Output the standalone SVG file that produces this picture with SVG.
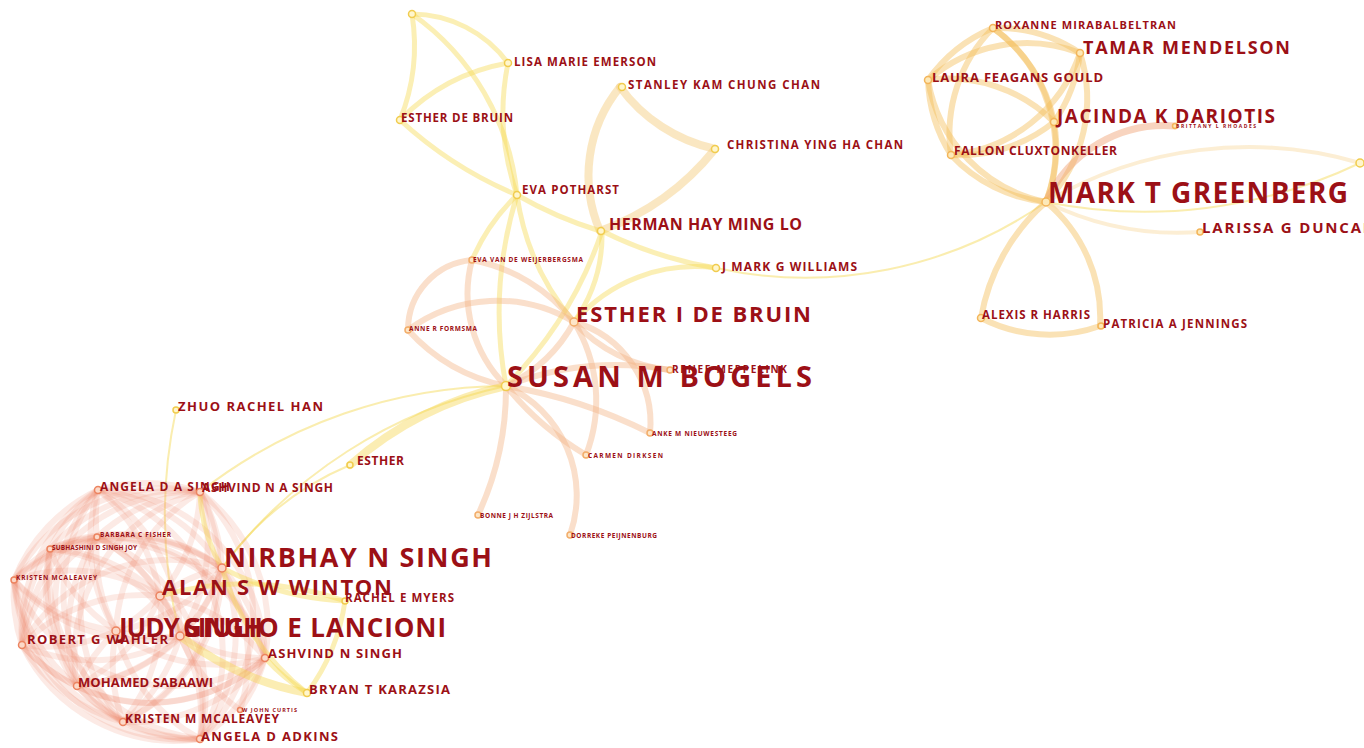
<svg xmlns="http://www.w3.org/2000/svg" width="1364" height="748" viewBox="0 0 1364 748">
<style>
.bg{fill:#fff}
path{fill:none;stroke-linecap:round}
.ey{stroke:#f5d84e;stroke-opacity:.42;stroke-width:5}
.eyt{stroke:#f5d84e;stroke-opacity:.45;stroke-width:2}
.eyw{stroke:#f6d856;stroke-opacity:.45;stroke-width:8}
.ep{stroke:#f6cf86;stroke-opacity:.5;stroke-width:8}
.eo{stroke:#f3b282;stroke-opacity:.42;stroke-width:6}
.es{stroke:#ee8562;stroke-opacity:.17;stroke-width:6}
.er{stroke:#f5bf5c;stroke-opacity:.45;stroke-width:6}
.erb{stroke:#f0a070;stroke-opacity:.45;stroke-width:7}
.erp{stroke:#f8d9a0;stroke-opacity:.45;stroke-width:4}
.dy{fill:#fff6cc;stroke:#f1cc4e;stroke-width:1.5}
.do{fill:#fde6c8;stroke:#f2ad6a;stroke-width:1.5}
.ds{fill:#fcd8c8;stroke:#ec8460;stroke-width:1.5}
.dr{fill:#fde9b8;stroke:#f3b55a;stroke-width:1.5}
text{font-family:"Open Sans","DejaVu Sans",sans-serif;font-weight:700;fill:#9c1016}
</style>
<rect class="bg" x="0" y="0" width="1364" height="748"/>
<g id="connectors">
<path class="ey" d="M412 14 A200 200 0 0 1 400 120"/>
<path class="ey" d="M412 14 A120 120 0 0 1 508 63"/>
<path class="ey" d="M412 14 A250 250 0 0 1 517 195"/>
<path class="ey" d="M400 120 A200 200 0 0 1 508 63"/>
<path class="ey" d="M400 120 A400 400 0 0 0 517 195"/>
<path class="ey" d="M508 63 A250 250 0 0 0 517 195"/>
<path class="ey" d="M517 195 A400 400 0 0 0 506 386"/>
<path class="ey" d="M517 195 A250 250 0 0 0 574 322"/>
<path class="ey" d="M517 195 A200 200 0 0 0 472 260"/>
<path class="ep" d="M620 87 A160 160 0 0 0 715 149"/>
<path class="ep" d="M620 87 A140 140 0 0 0 600 231"/>
<path class="ep" d="M715 149 A260 260 0 0 1 600 231"/>
<path class="ey" d="M517 195 A400 400 0 0 0 600 231"/>
<path class="ey" d="M602 231 A400 400 0 0 0 716 268"/>
<path class="ey" d="M602 231 A400 400 0 0 1 506 386"/>
<path class="ey" d="M602 231 A150 150 0 0 1 574 322"/>
<path class="ey" d="M716 268 A160 160 0 0 0 574 322"/>
<path class="eyt" d="M716 268 A420 420 0 0 0 1046 202"/>
<path class="eo" d="M506 386 A150 150 0 0 0 574 322"/>
<path class="eo" d="M408 330 A150 150 0 0 1 574 322"/>
<path class="eo" d="M408 330 A180 180 0 0 0 506 386"/>
<path class="eo" d="M472 260 A130 130 0 0 0 506 386"/>
<path class="eo" d="M472 260 A170 170 0 0 1 574 322"/>
<path class="eo" d="M408 330 A70 70 0 0 1 472 260"/>
<path class="eo" d="M506 386 A300 300 0 0 1 670 370"/>
<path class="eo" d="M574 322 A150 150 0 0 0 670 370"/>
<path class="eo" d="M506 386 A500 500 0 0 1 650 433"/>
<path class="eo" d="M574 322 A105 105 0 0 1 650 433"/>
<path class="eo" d="M506 386 A300 300 0 0 0 586 455"/>
<path class="eo" d="M574 322 A150 150 0 0 1 586 455"/>
<path class="eo" d="M506 386 A300 300 0 0 1 478 515"/>
<path class="eo" d="M506 386 A120 120 0 0 1 570 535"/>
<path class="eyw" d="M506 386 A350 350 0 0 0 350 465"/>
<path class="eyt" d="M350 465 A300 300 0 0 0 222 568"/>
<path class="eyt" d="M506 386 A480 480 0 0 0 222 568"/>
<path class="eyt" d="M506 386 A500 500 0 0 0 200 492"/>
<path class="eyt" d="M176 410 A500 500 0 0 0 180 636"/>
<path class="es" d="M14 580 A170 170 0 0 1 50 549"/>
<path class="es" d="M14 580 A170 170 0 0 1 97 537"/>
<path class="es" d="M14 580 A170 170 0 0 1 98 490"/>
<path class="es" d="M14 580 A170 170 0 0 1 200 492"/>
<path class="es" d="M14 580 A170 170 0 0 1 160 596"/>
<path class="es" d="M14 580 A170 170 0 0 1 222 568"/>
<path class="es" d="M265 658 A170 170 0 0 1 14 580"/>
<path class="es" d="M180 636 A170 170 0 0 1 14 580"/>
<path class="es" d="M200 739 A170 170 0 0 1 14 580"/>
<path class="es" d="M123 722 A170 170 0 0 1 14 580"/>
<path class="es" d="M77 686 A170 170 0 0 1 14 580"/>
<path class="es" d="M116 631 A170 170 0 0 1 14 580"/>
<path class="es" d="M22 645 A170 170 0 0 1 14 580"/>
<path class="es" d="M50 549 A170 170 0 0 1 97 537"/>
<path class="es" d="M50 549 A170 170 0 0 1 98 490"/>
<path class="es" d="M50 549 A170 170 0 0 1 200 492"/>
<path class="es" d="M50 549 A170 170 0 0 1 160 596"/>
<path class="es" d="M50 549 A170 170 0 0 1 222 568"/>
<path class="es" d="M50 549 A170 170 0 0 1 265 658"/>
<path class="es" d="M50 549 A170 170 0 0 1 180 636"/>
<path class="es" d="M200 739 A170 170 0 0 1 50 549"/>
<path class="es" d="M123 722 A170 170 0 0 1 50 549"/>
<path class="es" d="M77 686 A170 170 0 0 1 50 549"/>
<path class="es" d="M116 631 A170 170 0 0 1 50 549"/>
<path class="es" d="M22 645 A170 170 0 0 1 50 549"/>
<path class="es" d="M97 537 A170 170 0 0 1 98 490"/>
<path class="es" d="M97 537 A170 170 0 0 1 200 492"/>
<path class="es" d="M97 537 A170 170 0 0 1 160 596"/>
<path class="es" d="M97 537 A170 170 0 0 1 222 568"/>
<path class="es" d="M97 537 A170 170 0 0 1 265 658"/>
<path class="es" d="M97 537 A170 170 0 0 1 180 636"/>
<path class="es" d="M97 537 A170 170 0 0 1 200 739"/>
<path class="es" d="M123 722 A170 170 0 0 1 97 537"/>
<path class="es" d="M77 686 A170 170 0 0 1 97 537"/>
<path class="es" d="M116 631 A170 170 0 0 1 97 537"/>
<path class="es" d="M22 645 A170 170 0 0 1 97 537"/>
<path class="es" d="M98 490 A170 170 0 0 1 200 492"/>
<path class="es" d="M98 490 A170 170 0 0 1 160 596"/>
<path class="es" d="M98 490 A170 170 0 0 1 222 568"/>
<path class="es" d="M98 490 A170 170 0 0 1 265 658"/>
<path class="es" d="M98 490 A170 170 0 0 1 180 636"/>
<path class="es" d="M98 490 A170 170 0 0 1 200 739"/>
<path class="es" d="M123 722 A170 170 0 0 1 98 490"/>
<path class="es" d="M77 686 A170 170 0 0 1 98 490"/>
<path class="es" d="M116 631 A170 170 0 0 1 98 490"/>
<path class="es" d="M22 645 A170 170 0 0 1 98 490"/>
<path class="es" d="M200 492 A170 170 0 0 1 160 596"/>
<path class="es" d="M200 492 A170 170 0 0 1 222 568"/>
<path class="es" d="M200 492 A170 170 0 0 1 265 658"/>
<path class="es" d="M200 492 A170 170 0 0 1 180 636"/>
<path class="es" d="M200 492 A170 170 0 0 1 200 739"/>
<path class="es" d="M200 492 A170 170 0 0 1 123 722"/>
<path class="es" d="M77 686 A170 170 0 0 1 200 492"/>
<path class="es" d="M116 631 A170 170 0 0 1 200 492"/>
<path class="es" d="M22 645 A170 170 0 0 1 200 492"/>
<path class="es" d="M160 596 A170 170 0 0 1 222 568"/>
<path class="es" d="M160 596 A170 170 0 0 1 265 658"/>
<path class="es" d="M160 596 A170 170 0 0 1 180 636"/>
<path class="es" d="M160 596 A170 170 0 0 1 200 739"/>
<path class="es" d="M160 596 A170 170 0 0 1 123 722"/>
<path class="es" d="M160 596 A170 170 0 0 1 77 686"/>
<path class="es" d="M160 596 A170 170 0 0 1 116 631"/>
<path class="es" d="M22 645 A170 170 0 0 1 160 596"/>
<path class="es" d="M222 568 A170 170 0 0 1 265 658"/>
<path class="es" d="M222 568 A170 170 0 0 1 180 636"/>
<path class="es" d="M222 568 A170 170 0 0 1 200 739"/>
<path class="es" d="M222 568 A170 170 0 0 1 123 722"/>
<path class="es" d="M222 568 A170 170 0 0 1 77 686"/>
<path class="es" d="M222 568 A170 170 0 0 1 116 631"/>
<path class="es" d="M22 645 A170 170 0 0 1 222 568"/>
<path class="es" d="M265 658 A170 170 0 0 1 180 636"/>
<path class="es" d="M265 658 A170 170 0 0 1 200 739"/>
<path class="es" d="M265 658 A170 170 0 0 1 123 722"/>
<path class="es" d="M265 658 A170 170 0 0 1 77 686"/>
<path class="es" d="M265 658 A170 170 0 0 1 116 631"/>
<path class="es" d="M265 658 A170 170 0 0 1 22 645"/>
<path class="es" d="M180 636 A170 170 0 0 1 200 739"/>
<path class="es" d="M180 636 A170 170 0 0 1 123 722"/>
<path class="es" d="M180 636 A170 170 0 0 1 77 686"/>
<path class="es" d="M180 636 A170 170 0 0 1 116 631"/>
<path class="es" d="M180 636 A170 170 0 0 1 22 645"/>
<path class="es" d="M200 739 A170 170 0 0 1 123 722"/>
<path class="es" d="M200 739 A170 170 0 0 1 77 686"/>
<path class="es" d="M200 739 A170 170 0 0 1 116 631"/>
<path class="es" d="M200 739 A170 170 0 0 1 22 645"/>
<path class="es" d="M123 722 A170 170 0 0 1 77 686"/>
<path class="es" d="M123 722 A170 170 0 0 1 116 631"/>
<path class="es" d="M123 722 A170 170 0 0 1 22 645"/>
<path class="es" d="M77 686 A170 170 0 0 1 116 631"/>
<path class="es" d="M77 686 A170 170 0 0 1 22 645"/>
<path class="es" d="M116 631 A170 170 0 0 1 22 645"/>
<path class="es" d="M180 636 A170 170 0 0 0 240 710"/>
<path class="es" d="M265 658 A170 170 0 0 1 240 710"/>
<path class="es" d="M222 568 A170 170 0 0 1 240 710"/>
<path class="ey" d="M222 568 A300 300 0 0 0 345 601"/>
<path class="ey" d="M345 601 A200 200 0 0 1 307 693"/>
<path class="ey" d="M222 568 A250 250 0 0 0 307 693"/>
<path class="eyw" d="M180 636 A300 300 0 0 0 307 693"/>
<path class="ey" d="M265 658 A200 200 0 0 0 307 693"/>
<path class="ey" d="M160 596 A300 300 0 0 1 345 601"/>
<path class="ey" d="M222 568 A160 160 0 0 1 200 492"/>
<path class="er" d="M928 80 A150 150 0 0 1 993 28"/>
<path class="er" d="M928 80 A150 150 0 0 1 1080 53"/>
<path class="er" d="M928 80 A150 150 0 0 1 1054 122"/>
<path class="er" d="M1046 202 A150 150 0 0 1 928 80"/>
<path class="er" d="M951 155 A150 150 0 0 1 928 80"/>
<path class="er" d="M993 28 A150 150 0 0 1 1080 53"/>
<path class="er" d="M993 28 A150 150 0 0 1 1054 122"/>
<path class="er" d="M993 28 A150 150 0 0 1 1046 202"/>
<path class="er" d="M951 155 A150 150 0 0 1 993 28"/>
<path class="er" d="M1080 53 A150 150 0 0 1 1054 122"/>
<path class="er" d="M1080 53 A150 150 0 0 1 1046 202"/>
<path class="er" d="M1080 53 A150 150 0 0 1 951 155"/>
<path class="er" d="M1054 122 A150 150 0 0 1 1046 202"/>
<path class="er" d="M1054 122 A150 150 0 0 1 951 155"/>
<path class="er" d="M1046 202 A150 150 0 0 1 951 155"/>
<path class="er" d="M1046 202 A200 200 0 0 0 981 318"/>
<path class="er" d="M1046 202 A150 150 0 0 1 1100 326"/>
<path class="er" d="M981 318 A150 150 0 0 0 1100 326"/>
<path class="erb" d="M1046 202 A130 130 0 0 1 1175 126"/>
<path class="erp" d="M1046 202 A400 400 0 0 1 1360 163"/>
<path class="erp" d="M1046 202 A300 300 0 0 0 1200 232"/>
<path class="eyt" d="M1046 202 A500 500 0 0 0 1360 163"/>
</g>
<g id="n-top"><circle class="dy" cx="412" cy="14" r="3.5"/></g>
<g id="n-lisa-marie-emerson"><circle class="dy" cx="508" cy="63" r="3.5"/><text x="514" y="66" font-size="11.5" textLength="142" lengthAdjust="spacing">LISA MARIE EMERSON</text></g>
<g id="n-stanley-kam-chung-chan"><circle class="dy" cx="622" cy="87" r="3.5"/><text x="628" y="89" font-size="11.5" textLength="192" lengthAdjust="spacing">STANLEY KAM CHUNG CHAN</text></g>
<g id="n-esther-de-bruin"><circle class="dy" cx="400" cy="120" r="3.5"/><text x="401" y="122" font-size="11.5" textLength="112" lengthAdjust="spacing">ESTHER DE BRUIN</text></g>
<g id="n-christina-ying-ha-chan"><circle class="dy" cx="715" cy="149" r="3.5"/><text x="727" y="149" font-size="11.5" textLength="176" lengthAdjust="spacing">CHRISTINA YING HA CHAN</text></g>
<g id="n-eva-potharst"><circle class="dy" cx="517" cy="195" r="3.5"/><text x="522" y="194" font-size="11.5" textLength="97" lengthAdjust="spacing">EVA POTHARST</text></g>
<g id="n-herman-hay-ming-lo"><circle class="dy" cx="601" cy="231" r="3.5"/><text x="609" y="230" font-size="16" textLength="193" lengthAdjust="spacing">HERMAN HAY MING LO</text></g>
<g id="n-j-mark-g-williams"><circle class="dy" cx="716" cy="268" r="3.5"/><text x="722" y="271" font-size="12" textLength="135" lengthAdjust="spacing">J MARK G WILLIAMS</text></g>
<g id="n-eva-van-de-weijerbergsma"><circle class="do" cx="472" cy="260" r="3"/><text x="473" y="262" font-size="6.5" textLength="110" lengthAdjust="spacing">EVA VAN DE WEIJERBERGSMA</text></g>
<g id="n-esther-i-de-bruin"><circle class="do" cx="574" cy="322" r="4"/><text x="576" y="322" font-size="22" textLength="235" lengthAdjust="spacing">ESTHER I DE BRUIN</text></g>
<g id="n-anne-r-formsma"><circle class="do" cx="408" cy="330" r="3"/><text x="409" y="331" font-size="6.5" textLength="68" lengthAdjust="spacing">ANNE R FORMSMA</text></g>
<g id="n-susan-m-bogels"><circle class="dy" cx="506" cy="386" r="4.5"/><text x="507" y="387" font-size="29" textLength="305" lengthAdjust="spacing">SUSAN M BOGELS</text></g>
<g id="n-renee-meppelink"><circle class="do" cx="670" cy="370" r="3"/><text x="672" y="373" font-size="10" textLength="115" lengthAdjust="spacing">RENEE MEPPELINK</text></g>
<g id="n-anke-m-nieuwesteeg"><circle class="do" cx="650" cy="433" r="3"/><text x="652" y="436" font-size="6.5" textLength="85" lengthAdjust="spacing">ANKE M NIEUWESTEEG</text></g>
<g id="n-carmen-dirksen"><circle class="do" cx="586" cy="455" r="3"/><text x="588" y="458" font-size="6.5" textLength="75" lengthAdjust="spacing">CARMEN DIRKSEN</text></g>
<g id="n-bonne-j-h-zijlstra"><circle class="do" cx="478" cy="515" r="3"/><text x="480" y="518" font-size="6.5" textLength="73" lengthAdjust="spacing">BONNE J H ZIJLSTRA</text></g>
<g id="n-dorreke-peijnenburg"><circle class="do" cx="570" cy="535" r="3"/><text x="571" y="538" font-size="6.5" textLength="86" lengthAdjust="spacing">DORREKE PEIJNENBURG</text></g>
<g id="n-zhuo-rachel-han"><circle class="dy" cx="176" cy="410" r="3"/><text x="178" y="411" font-size="13" textLength="145" lengthAdjust="spacing">ZHUO RACHEL HAN</text></g>
<g id="n-esther"><circle class="dy" cx="350" cy="465" r="3"/><text x="357" y="465" font-size="12" textLength="47" lengthAdjust="spacing">ESTHER</text></g>
<g id="n-angela-d-a-singh"><circle class="ds" cx="98" cy="490" r="3.5"/><text x="100" y="491" font-size="12" textLength="130" lengthAdjust="spacing">ANGELA D A SINGH</text></g>
<g id="n-ashvind-n-a-singh"><circle class="ds" cx="200" cy="492" r="3.5"/><text x="202" y="492" font-size="12" textLength="131" lengthAdjust="spacing">ASHVIND N A SINGH</text></g>
<g id="n-barbara-c-fisher"><circle class="ds" cx="97" cy="537" r="3"/><text x="100" y="537" font-size="6.5" textLength="71" lengthAdjust="spacing">BARBARA C FISHER</text></g>
<g id="n-subhashini-d-singh-joy"><circle class="ds" cx="50" cy="549" r="3"/><text x="52" y="550" font-size="6.5" textLength="85" lengthAdjust="spacing">SUBHASHINI D SINGH JOY</text></g>
<g id="n-kristen-mcaleavey"><circle class="ds" cx="14" cy="580" r="3"/><text x="16" y="580" font-size="6.5" textLength="81" lengthAdjust="spacing">KRISTEN MCALEAVEY</text></g>
<g id="n-nirbhay-n-singh"><circle class="ds" cx="222" cy="568" r="4"/><text x="224" y="567" font-size="27" textLength="268" lengthAdjust="spacing">NIRBHAY N SINGH</text></g>
<g id="n-alan-s-w-winton"><circle class="ds" cx="160" cy="596" r="4"/><text x="162" y="595" font-size="22" textLength="230" lengthAdjust="spacing">ALAN S W WINTON</text></g>
<g id="n-rachel-e-myers"><circle class="dy" cx="345" cy="601" r="3"/><text x="345" y="602" font-size="11.5" textLength="109" lengthAdjust="spacing">RACHEL E MYERS</text></g>
<g id="n-judy-singh"><circle class="ds" cx="116" cy="631" r="4"/><text x="119" y="637" font-size="26" textLength="144" lengthAdjust="spacing">JUDY SINGH</text></g>
<g id="n-giulio-e-lancioni"><circle class="ds" cx="180" cy="636" r="4"/><text x="183" y="637" font-size="26" textLength="263" lengthAdjust="spacing">GIULIO E LANCIONI</text></g>
<g id="n-robert-g-wahler"><circle class="ds" cx="22" cy="645" r="3.5"/><text x="27" y="644" font-size="13" textLength="141" lengthAdjust="spacing">ROBERT G WAHLER</text></g>
<g id="n-ashvind-n-singh"><circle class="ds" cx="265" cy="658" r="3.5"/><text x="268" y="658" font-size="13" textLength="134" lengthAdjust="spacing">ASHVIND N SINGH</text></g>
<g id="n-mohamed-sabaawi"><circle class="ds" cx="77" cy="686" r="3.5"/><text x="78" y="687" font-size="13" textLength="135" lengthAdjust="spacing">MOHAMED SABAAWI</text></g>
<g id="n-bryan-t-karazsia"><circle class="dy" cx="307" cy="693" r="3.5"/><text x="309" y="694" font-size="13" textLength="141" lengthAdjust="spacing">BRYAN T KARAZSIA</text></g>
<g id="n-w-john-curtis"><circle class="ds" cx="240" cy="710" r="2.5"/><text x="242" y="712" font-size="5.5" textLength="55" lengthAdjust="spacing">W JOHN CURTIS</text></g>
<g id="n-kristen-m-mcaleavey"><circle class="ds" cx="123" cy="722" r="3.5"/><text x="125" y="723" font-size="12" textLength="154" lengthAdjust="spacing">KRISTEN M MCALEAVEY</text></g>
<g id="n-angela-d-adkins"><circle class="ds" cx="200" cy="739" r="3.5"/><text x="201" y="741" font-size="13" textLength="137" lengthAdjust="spacing">ANGELA D ADKINS</text></g>
<g id="n-roxanne-mirabalbeltran"><circle class="dr" cx="993" cy="28" r="3.5"/><text x="995" y="29" font-size="11" textLength="181" lengthAdjust="spacing">ROXANNE MIRABALBELTRAN</text></g>
<g id="n-tamar-mendelson"><circle class="dr" cx="1080" cy="53" r="3.5"/><text x="1083" y="54" font-size="18" textLength="207" lengthAdjust="spacing">TAMAR MENDELSON</text></g>
<g id="n-laura-feagans-gould"><circle class="dr" cx="928" cy="80" r="3.5"/><text x="932" y="82" font-size="13" textLength="171" lengthAdjust="spacing">LAURA FEAGANS GOULD</text></g>
<g id="n-jacinda-k-dariotis"><circle class="dr" cx="1054" cy="122" r="3.5"/><text x="1057" y="123" font-size="19" textLength="218" lengthAdjust="spacing">JACINDA K DARIOTIS</text></g>
<g id="n-brittany-l-rhoades"><circle class="dr" cx="1175" cy="126" r="2.5"/><text x="1176" y="128" font-size="5" textLength="80" lengthAdjust="spacing">BRITTANY L RHOADES</text></g>
<g id="n-fallon-cluxtonkeller"><circle class="dr" cx="951" cy="155" r="3.5"/><text x="954" y="155" font-size="12" textLength="163" lengthAdjust="spacing">FALLON CLUXTONKELLER</text></g>
<g id="n-mark-t-greenberg"><circle class="dr" cx="1046" cy="202" r="4"/><text x="1048" y="203" font-size="28" textLength="300" lengthAdjust="spacing">MARK T GREENBERG</text></g>
<g id="n-edge-node"><circle class="dy" cx="1360" cy="163" r="4"/></g>
<g id="n-larissa-g-duncan"><circle class="dr" cx="1200" cy="232" r="3"/><text x="1202" y="233" font-size="15" textLength="173" lengthAdjust="spacing">LARISSA G DUNCAN</text></g>
<g id="n-alexis-r-harris"><circle class="dr" cx="981" cy="318" r="3.5"/><text x="982" y="319" font-size="11.5" textLength="108" lengthAdjust="spacing">ALEXIS R HARRIS</text></g>
<g id="n-patricia-a-jennings"><circle class="dr" cx="1101" cy="326" r="3"/><text x="1103" y="328" font-size="11.5" textLength="144" lengthAdjust="spacing">PATRICIA A JENNINGS</text></g>
</svg>
